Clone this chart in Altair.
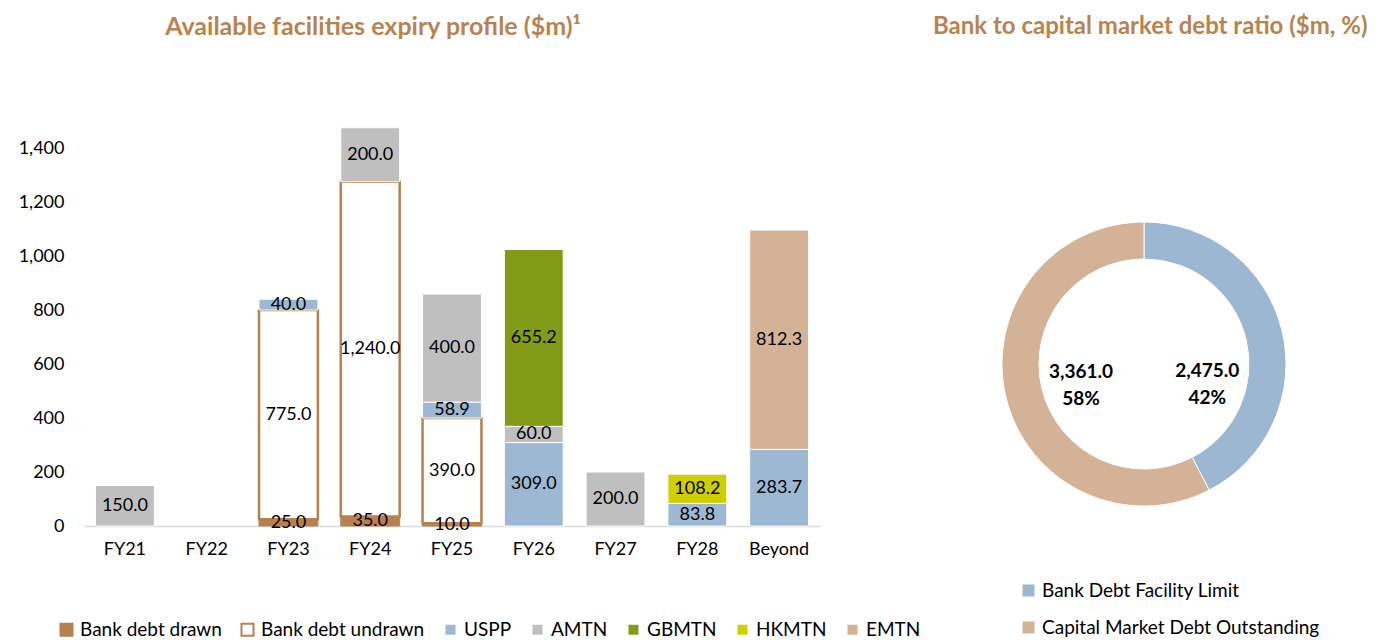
import altair as alt
import pandas as pd

categories = ["FY21", "FY22", "FY23", "FY24", "FY25", "FY26", "FY27", "FY28", "Beyond"]
series_names = ["Bank debt drawn", "Bank debt undrawn", "USPP", "AMTN", "GBMTN", "HKMTN", "EMTN"]
bank_drawn = [0, 0, 25.0, 35.0, 10.0, 0, 0, 0, 0]
bank_undrawn = [0, 0, 775.0, 1240.0, 390.0, 0, 0, 0, 0]
uspp = [0, 0, 40.0, 0, 58.9, 309.0, 0, 83.8, 283.7]
amtn = [150.0, 0, 0, 200.0, 400.0, 60.0, 200.0, 0, 0]
gbmtn = [0, 0, 0, 0, 0, 655.2, 0, 0, 0]
hkmtn = [0, 0, 0, 0, 0, 0, 0, 108.2, 0]
emtn = [0, 0, 0, 0, 0, 0, 0, 0, 812.3]
y_ticks = [0, 200, 400, 600, 800, 1000, 1200, 1400]

donut_labels = ["Bank Debt Facility Limit", "Capital Market Debt Outstanding"]
donut_values = [2475.0, 3361.0]

title_left = "Available facilities expiry profile ($m)\u00b9"
title_right = "Bank to capital market debt ratio ($m, %)"

BROWN = "#B9804F"
fills = [BROWN, "#FFFFFF", "#9CB8D3", "#BFBFBF", "#849B17", "#CFCF00", "#D4B295"]
strokes = [BROWN, BROWN, "#FFFFFF", "#FFFFFF", "#FFFFFF", "#FFFFFF", "#FFFFFF"]
donut_colors = ["#9BB7D2", "#D4B295"]
TITLE_COLOR = "#B8834F"
FONT = "Lato"

series_values = [bank_drawn, bank_undrawn, uspp, amtn, gbmtn, hkmtn, emtn]
rows = []
for si, (name, vals) in enumerate(zip(series_names, series_values)):
    for cat, v in zip(categories, vals):
        if v > 0:
            rows.append({"category": cat, "series": name, "value": v, "order": si})
bar_df = pd.DataFrame(rows)

donut_df = pd.DataFrame({"label": donut_labels, "value": donut_values, "idx": [0, 1]})

base = alt.Chart(bar_df).transform_stack(
    stack="value", groupby=["category"], as_=["y0", "y1"],
    sort=[alt.SortField("order", order="ascending")]
)

legend_bar = alt.Legend(
    orient="none", legendX=-27, legendY=526, direction="horizontal",
    symbolType="square", symbolSize=144, symbolStrokeWidth=2,
    labelFont=FONT, labelFontSize=19, labelColor="black", labelOffset=4,
    columnPadding=15, padding=0, labelLimit=400,
)

x_scale = alt.Scale(domain=categories, paddingInner=0.28, paddingOuter=0.14)
x_enc = alt.X(
    "category:N", sort=categories, title=None, scale=x_scale,
    axis=alt.Axis(labelAngle=0, labelFont=FONT, labelFontSize=18, labelColor="black",
                  domainColor="#D9D9D9", domainWidth=1.5, ticks=False, grid=False,
                  labelPadding=14),
)
y_scale = alt.Scale(domain=[0, 1600], nice=False)
y_axis = alt.Axis(values=y_ticks, format=",d", labelFont=FONT, labelFontSize=18,
                  labelColor="black", domain=False, ticks=False, grid=False, labelPadding=20)

bars = base.mark_bar().encode(
    x=x_enc,
    y=alt.Y("y0:Q", scale=y_scale, axis=y_axis, title=None),
    y2="y1:Q",
    color=alt.Color("series:N", scale=alt.Scale(domain=series_names, range=fills),
                    legend=legend_bar, title=None),
    stroke=alt.Stroke("series:N", scale=alt.Scale(domain=series_names, range=strokes),
                      legend=legend_bar, title=None),
    strokeWidth=alt.condition("datum.series === 'Bank debt undrawn'", alt.value(2.5), alt.value(1)),
)

bar_text = base.transform_calculate(mid="(datum.y0 + datum.y1) / 2").mark_text(
    font=FONT, fontSize=18, color="black"
).encode(
    x=alt.X("category:N", sort=categories, title=None, scale=x_scale),
    y=alt.Y("mid:Q", scale=y_scale, title=None),
    text=alt.Text("value:Q", format=",.1f"),
)

t_left = alt.Chart(pd.DataFrame({"t": [title_left]})).mark_text(
    font=FONT, fontSize=25, fontWeight="bold", color=TITLE_COLOR, align="center", baseline="middle"
).encode(text="t:N", x=alt.value(289), y=alt.value(-67))

t_right = alt.Chart(pd.DataFrame({"t": [title_right]})).mark_text(
    font=FONT, fontSize=24, fontWeight="bold", color=TITLE_COLOR, align="left", baseline="middle"
).encode(text="t:N", x=alt.value(849), y=alt.value(-67))

CX, CY = 1060, 270

arc = alt.Chart(donut_df).mark_arc(radius=142, radius2=105, stroke="white", strokeWidth=1).encode(
    theta=alt.Theta("value:Q", stack=True),
    fill=alt.Fill("label:N", scale=alt.Scale(domain=donut_labels, range=donut_colors), title=None,
                  legend=alt.Legend(orient="none", legendX=935, legendY=487, direction="vertical",
                                    symbolType="square", symbolSize=144, symbolStrokeWidth=0,
                                    labelFont=FONT, labelFontSize=19, labelColor="black",
                                    labelOffset=4, rowPadding=17, padding=0, labelLimit=400)),
    order=alt.Order("idx:Q"),
    x=alt.value(CX), y=alt.value(CY),
)

arc_text = alt.Chart(donut_df).transform_joinaggregate(total="sum(value)").transform_calculate(
    lbl="format(datum.value, ',.1f') + '\\n' + format(datum.value / datum.total, '.0%')"
).mark_text(radius=66, font=FONT, fontSize=19, fontWeight="bold", color="black",
            lineBreak="\n", lineHeight=27, align="center", baseline="middle", dy=-12).encode(
    theta=alt.Theta("value:Q", stack=True, scale=alt.Scale(range=[0.785, 5.868])),
    detail="label:N",
    order=alt.Order("idx:Q"),
    text="lbl:N",
    x=alt.value(CX), y=alt.value(CY),
)

chart = alt.layer(bars, bar_text, t_left, t_right, arc, arc_text).resolve_scale(
    theta="independent"
).properties(
    width=736, height=432,
    autosize=alt.AutoSizeParams(type="none"),
    padding={"left": 76, "top": 86, "right": 563, "bottom": 114},
).configure_view(stroke=None)

chart.save("out.html", embed_options={"renderer": "svg", "actions": False})
